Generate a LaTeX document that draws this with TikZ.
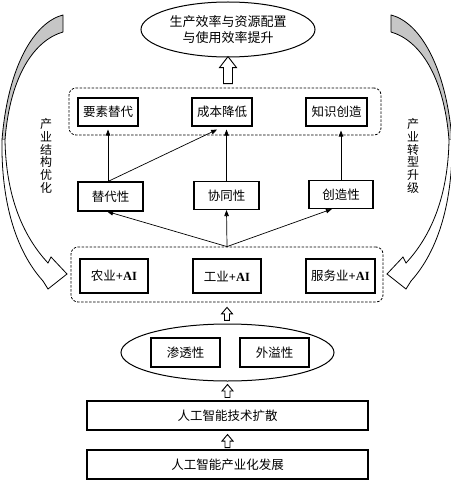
\documentclass[tikz,border=0pt]{standalone}
\usepackage{fontspec}
\setmainfont{Noto Sans CJK SC}
\newfontfamily\latinf{Liberation Serif}
\usetikzlibrary{calc,arrows.meta,shapes.geometric}
\newcommand\aiplus{{\latinf\bfseries +AI}}
\newcommand\sidearr{%
  \filldraw[fill=gray!45, line width=0.8pt, line join=round]
    (63,15) .. controls (35,22) and (8,65) .. (2,140) -- (5,140)
    .. controls (10,75) and (35,40) .. (63,32) -- cycle;
  \filldraw[fill=white, line width=0.8pt, line join=miter]
    (2,140) .. controls (1,200) and (15,250) .. (43,281) -- (48,289) -- (67,274)
    -- (51,257) -- (48,263) .. controls (22,235) and (6,195) .. (5,140);
}
\begin{document}
\begin{tikzpicture}[x=1pt,y=-1pt,
  box/.style={draw, line width=1.1pt, inner sep=0pt, font=\fontsize{12.5}{14}\selectfont},
  dbox/.style={draw, dash pattern=on 2.5pt off 1.5pt, line width=0.8pt, rounded corners=7pt, inner sep=0pt},
  ell/.style={draw, ellipse, line width=1pt, inner sep=0pt},
  conn/.style={-{Triangle[length=6pt,width=4.5pt]}, line width=0.7pt},
  side/.style={font=\fontsize{12}{12.8}\selectfont, align=center, inner sep=0pt},
  bigup/.pic={\draw[line width=0.9pt, fill=white] (-4.5pt,0pt) -- (-4.5pt,16pt) -- (-8.5pt,16pt) -- (0pt,27pt) -- (8.5pt,16pt) -- (4.5pt,16pt) -- (4.5pt,0pt) -- cycle;},
  smallup/.pic={\draw[line width=0.9pt, fill=white] (-2.5pt,0pt) -- (-2.5pt,6.5pt) -- (-5.5pt,6.5pt) -- (0pt,13pt) -- (5.5pt,6.5pt) -- (2.5pt,6.5pt) -- (2.5pt,0pt) -- cycle;}
]
\useasboundingbox (0,0) rectangle (450,481);

% side arrows
\sidearr
\begin{scope}[xshift=454pt, xscale=-1]
  \sidearr
\end{scope}
\node[side] (lab1) at (46,156) {产\\业\\结\\构\\优\\化};
\node[side] (lab2) at (413,156) {产\\业\\转\\型\\升\\级};

% top goal
\node[ell, minimum width=174pt, minimum height=55pt, align=center, font=\fontsize{13}{16}\selectfont] (goal) at (228,29.5) {生产效率与资源配置\\与使用效率提升};

% upper dashed group
\node[dbox, minimum width=312pt, minimum height=47pt] (dash1) at (225,111.5) {};
\node[box, minimum width=60pt, minimum height=28pt] (yaosu) at (108,112) {要素替代};
\node[box, minimum width=60pt, minimum height=28pt] (chengben) at (222,112) {成本降低};
\node[box, minimum width=61pt, minimum height=28pt] (zhishi) at (336.5,112) {知识创造};

% middle boxes
\node[box, minimum width=65pt, minimum height=29pt] (tidai) at (110.5,196.5) {替代性};
\node[box, minimum width=65pt, minimum height=28pt] (xietong) at (226.5,195.5) {协同性};
\node[box, minimum width=64pt, minimum height=28pt] (chuangzao) at (341,194.5) {创造性};

% lower dashed group
\node[dbox, minimum width=312pt, minimum height=55pt] (dash2) at (227,274.5) {};
\node[box, minimum width=68pt, minimum height=34pt] (nongye) at (114,276) {农业\aiplus};
\node[box, minimum width=68pt, minimum height=34pt] (gongye) at (227,276) {工业\aiplus};
\node[box, minimum width=69pt, minimum height=34pt] (fuwu) at (340.5,276) {服务业\aiplus};

% lower ellipse
\node[ell, minimum width=213pt, minimum height=57pt] (diff) at (227.5,352.5) {};
\node[box, minimum width=69pt, minimum height=29pt] (shentou) at (185.5,352.5) {渗透性};
\node[box, minimum width=69pt, minimum height=29pt] (waiyi) at (274.5,352.5) {外溢性};

% bottom boxes
\node[box, minimum width=281pt, minimum height=29pt] (kuosan) at (227.5,415.5) {人工智能技术扩散};
\node[box, minimum width=281pt, minimum height=29pt] (fazhan) at (227.5,464.5) {人工智能产业化发展};

% connectors
\coordinate (hub) at (dash2.north);
\draw[conn] (hub) -- ($(tidai.south west)!0.45!(tidai.south east)$);
\draw[conn] (hub) -- (xietong.south);
\draw[conn] (hub) -- ($(chuangzao.south west)!0.36!(chuangzao.south east)$);
\draw[conn, shorten >=-3pt] (tidai.north -| yaosu.south) coordinate (ts) -- ($(yaosu.south)+(0,6)$);
\draw[conn] (ts) -- ($(chengben.south west)!0.42!(chengben.south east)+(0,3)$);
\draw[conn] (xietong.north) -- ($(xietong.north |- chengben.south)+(0,3)$);
\draw[conn] (chuangzao.north) -- ($(chuangzao.north |- zhishi.south)+(0,4)$);

% hollow block arrows
\pic at ($(goal.south |- dash1.north)+(0,-4)$) {bigup};
\pic at ($(dash2.south)+(0,18)$) {smallup};
\pic at ($(diff.south)+(0,16)$) {smallup};
\pic at ($(kuosan.south)+(0,17)$) {smallup};
\end{tikzpicture}
\end{document}
